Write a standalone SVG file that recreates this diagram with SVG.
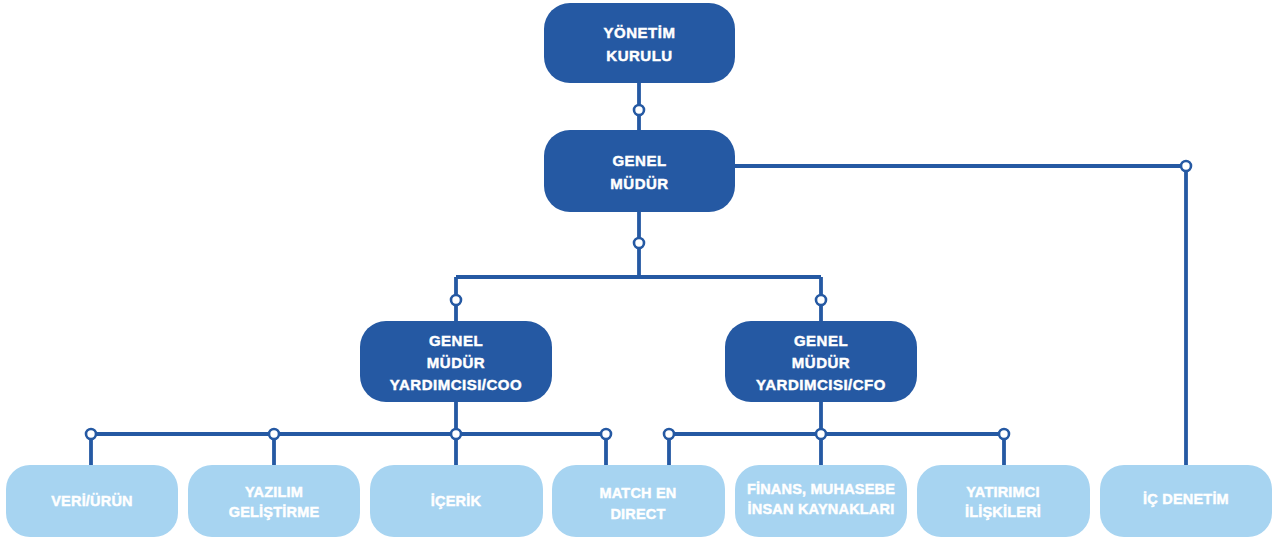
<svg xmlns="http://www.w3.org/2000/svg" width="1283" height="543" viewBox="0 0 1283 543">
<style>
.dark{fill:#2559a3}
.light{fill:#a7d4f1}
.t{font-family:"Liberation Sans",Arial,sans-serif;font-weight:bold;fill:#fff;stroke:#fff;stroke-width:0.45px;text-anchor:middle}
.tm{font-size:15px;letter-spacing:0.5px}
.ts{font-size:14.5px;letter-spacing:0.2px}
.ln{stroke:#2559a3;stroke-width:3.8;fill:none}
.dot{fill:#fff;stroke:#2559a3;stroke-width:2.6}
</style>
<rect width="1283" height="543" fill="#fff"/>
<g id="connectors">
<path class="ln" d="M639 83V130M639 212V277M456 277H821M456 277V321M821 277V321M735 166H1186V465"/>
<path class="ln" d="M456 402V434M91 434H606M91 434V465M274 434V465M456 434V465M606 434V465"/>
<path class="ln" d="M821 402V434M669 434H1004M669 434V465M821 434V465M1004 434V465"/>
<circle class="dot" cx="639" cy="110" r="5"/>
<circle class="dot" cx="639" cy="243" r="5"/>
<circle class="dot" cx="1186" cy="166" r="5"/>
<circle class="dot" cx="456" cy="300" r="5"/>
<circle class="dot" cx="821" cy="300" r="5"/>
<circle class="dot" cx="91" cy="434" r="5"/>
<circle class="dot" cx="274" cy="434" r="5"/>
<circle class="dot" cx="456" cy="434" r="5"/>
<circle class="dot" cx="606" cy="434" r="5"/>
<circle class="dot" cx="669" cy="434" r="5"/>
<circle class="dot" cx="821" cy="434" r="5"/>
<circle class="dot" cx="1004" cy="434" r="5"/>
</g>
<g id="yonetim"><rect class="dark" x="544" y="3" width="191" height="80" rx="26"/>
<text class="t tm" x="639.5" y="38">YÖNETİM</text><text class="t tm" x="639.5" y="61">KURULU</text></g>
<g id="genel-mudur"><rect class="dark" x="544" y="130" width="191" height="82" rx="26"/>
<text class="t tm" x="639.5" y="166">GENEL</text><text class="t tm" x="639.5" y="189">MÜDÜR</text></g>
<g id="coo"><rect class="dark" x="360" y="321" width="192" height="81" rx="26"/>
<text class="t tm" x="456" y="346">GENEL</text><text class="t tm" x="456" y="368">MÜDÜR</text><text class="t tm" x="456" y="390">YARDIMCISI/COO</text></g>
<g id="cfo"><rect class="dark" x="725" y="321" width="192" height="81" rx="26"/>
<text class="t tm" x="821" y="346">GENEL</text><text class="t tm" x="821" y="368">MÜDÜR</text><text class="t tm" x="821" y="390">YARDIMCISI/CFO</text></g>
<g id="veri"><rect class="light" x="6" y="465" width="172" height="72" rx="24"/>
<text class="t ts" x="92" y="506">VERİ/ÜRÜN</text></g>
<g id="yazilim"><rect class="light" x="188" y="465" width="172" height="72" rx="24"/>
<text class="t ts" x="274" y="497">YAZILIM</text><text class="t ts" x="274" y="517">GELİŞTİRME</text></g>
<g id="icerik"><rect class="light" x="370" y="465" width="173" height="72" rx="24"/>
<text class="t ts" x="456" y="506">İÇERİK</text></g>
<g id="match"><rect class="light" x="552" y="465" width="173" height="72" rx="24"/>
<text class="t ts" x="638" y="498">MATCH EN</text><text class="t ts" x="638" y="519">DIRECT</text></g>
<g id="finans"><rect class="light" x="735" y="465" width="172" height="72" rx="24"/>
<text class="t ts" x="821" y="494">FİNANS, MUHASEBE</text><text class="t ts" x="821" y="514">İNSAN KAYNAKLARI</text></g>
<g id="yatirimci"><rect class="light" x="917" y="465" width="173" height="72" rx="24"/>
<text class="t ts" x="1003" y="497">YATIRIMCI</text><text class="t ts" x="1003" y="517">İLİŞKİLERİ</text></g>
<g id="ic-denetim"><rect class="light" x="1100" y="465" width="172" height="72" rx="24"/>
<text class="t ts" x="1186" y="504">İÇ DENETİM</text></g>
</svg>
